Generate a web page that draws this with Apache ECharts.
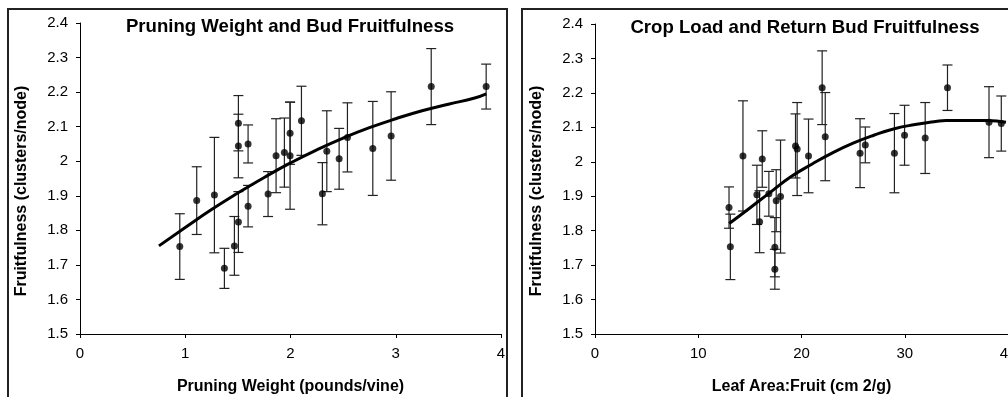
<!DOCTYPE html>
<html>
<head>
    <meta charset="utf-8">
    <title>Bud Fruitfulness</title>
    <script src="https://cdn.jsdelivr.net/npm/echarts@6/dist/echarts.min.js"></script>
</head>
<body style="margin:0;background:#fff">
    <div id="main" style="width:1008px;height:397px;"></div>
    <script type="text/javascript">
    // left panel: pruning weight vs fruitfulness
    var pwX = [0.948, 1.109, 1.277, 1.372, 1.467, 1.505, 1.505, 1.505, 1.597, 1.597, 1.787, 1.863,
               1.942, 1.996, 1.996, 2.104, 2.303, 2.345, 2.462, 2.541, 2.782, 2.956, 3.337, 3.859];
    var pwY = [1.753, 1.886, 1.902, 1.690, 1.755, 1.824, 2.110, 2.044, 2.050, 1.870, 1.905, 2.016,
               2.025, 2.081, 2.016, 2.117, 1.906, 2.029, 2.007, 2.069, 2.037, 2.073, 2.216, 2.216];
    var pwErr = [0.095, 0.098, 0.167, 0.058, 0.085, 0.088, 0.080, 0.092, 0.055, 0.060, 0.065, 0.107,
                 0.100, 0.090, 0.155, 0.100, 0.090, 0.117, 0.088, 0.100, 0.136, 0.128, 0.110, 0.065];
    var pwFitX = [0.75, 1.0, 1.25, 1.5, 1.75, 2.0, 2.25, 2.5, 2.75, 3.0, 3.25, 3.5, 3.75, 3.86];
    var pwFitY = [1.755, 1.808, 1.860, 1.908, 1.953, 1.995, 2.033, 2.067, 2.097, 2.123, 2.146, 2.165, 2.183, 2.195];

    // right panel: leaf area to fruit vs fruitfulness
    var laX = [12.98, 13.11, 14.33, 15.68, 15.94, 16.2, 16.84, 17.42, 17.42, 17.55, 17.97, 19.42,
               19.58, 20.68, 22.0, 22.3, 25.67, 26.18, 29.0, 29.98, 31.98, 34.14, 38.16, 39.35];
    var laY = [1.867, 1.753, 2.017, 1.904, 1.826, 2.008, 1.907, 1.752, 1.688, 1.887, 1.899, 2.046,
               2.037, 2.017, 2.215, 2.073, 2.025, 2.049, 2.025, 2.077, 2.069, 2.215, 2.115, 2.111];
    var laErr = [0.060, 0.095, 0.160, 0.086, 0.090, 0.082, 0.065, 0.086, 0.058, 0.090, 0.164, 0.093,
                 0.135, 0.107, 0.107, 0.128, 0.100, 0.052, 0.115, 0.087, 0.103, 0.066, 0.103, 0.080];
    var laFitX = [13, 15, 17, 19, 21, 23, 25, 27, 29, 31, 33, 34, 36, 38, 39.8];
    var laFitY = [1.821, 1.866, 1.912, 1.957, 1.993, 2.026, 2.054, 2.077, 2.096, 2.108, 2.117, 2.12, 2.12, 2.12, 2.115];

    var titles = ['Pruning Weight and Bud Fruitfulness', 'Crop Load and Return Bud Fruitfulness'];
    var xNames = ['Pruning Weight (pounds/vine)', 'Leaf Area:Fruit (cm 2/g)'];
    var yName = 'Fruitfulness (clusters/node)';

    var font = '"Liberation Sans", Arial, sans-serif';

    function zip(a, b, c) {
        return a.map((v, i) => c ? [v, b[i], c[i]] : [v, b[i]]);
    }

    function errorBars(params, api) {
        var x = api.value(0), y = api.value(1), e = api.value(2);
        var hi = api.coord([x, y + e]);
        var lo = api.coord([x, y - e]);
        var st = { stroke: '#222', lineWidth: 1.2 };
        return {
            type: 'group',
            children: [
                { type: 'line', shape: { x1: hi[0], y1: hi[1], x2: lo[0], y2: lo[1] }, style: st },
                { type: 'line', shape: { x1: hi[0] - 5, y1: hi[1], x2: hi[0] + 5, y2: hi[1] }, style: st },
                { type: 'line', shape: { x1: lo[0] - 5, y1: lo[1], x2: lo[0] + 5, y2: lo[1] }, style: st }
            ]
        };
    }

    function xAxis(idx, max, interval) {
        return {
            type: 'value', gridIndex: idx, min: 0, max: max, interval: interval,
            name: xNames[idx], nameLocation: 'middle', nameGap: 45,
            nameTextStyle: { fontFamily: font, fontSize: 16, fontWeight: 'bold', color: '#000' },
            splitLine: { show: false },
            axisLine: { lineStyle: { color: '#000', width: 1 } },
            axisTick: { lineStyle: { color: '#000' }, length: 4 },
            axisLabel: { fontFamily: font, fontSize: 15, color: '#000', margin: 12 }
        };
    }

    function yAxis(idx) {
        return {
            type: 'value', gridIndex: idx, min: 1.5, max: 2.4, interval: 0.1,
            splitLine: { show: false },
            axisLine: { show: true, lineStyle: { color: '#000', width: 1 } },
            axisTick: { show: true, lineStyle: { color: '#000' }, length: 4 },
            axisLabel: {
                fontFamily: font, fontSize: 15, color: '#000', margin: 12,
                formatter: v => Math.round(v * 10) / 10 + ''
            }
        };
    }

    var myChart = echarts.init(document.getElementById('main'));

    var option = {
        animation: false,
        backgroundColor: '#fff',
        title: [
            { text: titles[0], left: 285, top: 12, textAlign: 'center',
              textStyle: { fontFamily: font, fontSize: 18.6, fontWeight: 'bold', color: '#000' } },
            { text: titles[1], left: 800, top: 13, textAlign: 'center',
              textStyle: { fontFamily: font, fontSize: 18.6, fontWeight: 'bold', color: '#000' } }
        ],
        grid: [
            { left: 80, top: 23, width: 421, bottom: 63, outerBoundsMode: 'none' },
            { left: 595, top: 24, width: 413, bottom: 63, outerBoundsMode: 'none' }
        ],
        xAxis: [xAxis(0, 4, 1), xAxis(1, 40, 10)],
        yAxis: [yAxis(0), yAxis(1)],
        graphic: [
            { type: 'rect', shape: { x: 8, y: 9, width: 499, height: 400 },
              style: { fill: null, stroke: '#222', lineWidth: 2 }, silent: true },
            { type: 'rect', shape: { x: 522, y: 9, width: 500, height: 400 },
              style: { fill: null, stroke: '#222', lineWidth: 2 }, silent: true },
            { type: 'text', x: 22, y: 191, rotation: Math.PI / 2,
              style: { text: yName, fill: '#000', font: 'bold 16px ' + font, textAlign: 'center', textVerticalAlign: 'middle' } },
            { type: 'text', x: 537, y: 191, rotation: Math.PI / 2,
              style: { text: yName, fill: '#000', font: 'bold 16px ' + font, textAlign: 'center', textVerticalAlign: 'middle' } }
        ],
        series: [
            { type: 'custom', xAxisIndex: 0, yAxisIndex: 0, renderItem: errorBars,
              data: zip(pwX, pwY, pwErr), encode: { x: 0, y: 1 }, z: 2 },
            { type: 'line', xAxisIndex: 0, yAxisIndex: 0, data: zip(pwFitX, pwFitY),
              showSymbol: false, smooth: true, lineStyle: { color: '#000', width: 3 }, z: 3 },
            { type: 'scatter', xAxisIndex: 0, yAxisIndex: 0, data: zip(pwX, pwY),
              symbolSize: 7, itemStyle: { color: '#000' }, z: 4 },

            { type: 'custom', xAxisIndex: 1, yAxisIndex: 1, renderItem: errorBars,
              data: zip(laX, laY, laErr), encode: { x: 0, y: 1 }, z: 2 },
            { type: 'line', xAxisIndex: 1, yAxisIndex: 1, data: zip(laFitX, laFitY),
              showSymbol: false, smooth: true, lineStyle: { color: '#000', width: 3 }, z: 3 },
            { type: 'scatter', xAxisIndex: 1, yAxisIndex: 1, data: zip(laX, laY),
              symbolSize: 7, itemStyle: { color: '#000' }, z: 4 }
        ]
    };

    myChart.setOption(option);
    </script>
</body>
</html>
